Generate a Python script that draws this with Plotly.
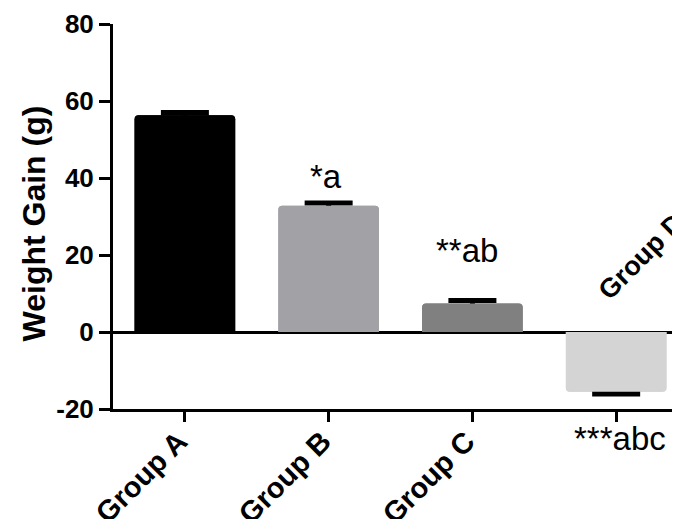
import plotly.graph_objects as go

categories = ["Group A", "Group B", "Group C", "Group D"]
means = [56.3, 32.8, 7.4, -15.5]
errors = [0.7, 0.7, 0.8, 0.6]
bar_colors = ["#000000", "#A2A2A6", "#808080", "#D4D4D4"]
tick_labels = ["Group A", "Group B", "Group C", ""]
sig_labels = ["", "*a", "**ab", "***abc"]
y_ticks = [-20, 0, 20, 40, 60, 80]
y_tick_labels = ["-20", "0", "20", "40", "60", "80"]

FONT = "Arial, Liberation Sans, sans-serif"

x_idx = list(range(len(categories)))

fig = go.Figure()
# bars with (symmetric) error bars
fig.add_trace(go.Bar(
    x=x_idx, y=means, width=0.70,
    marker=dict(color=bar_colors, line=dict(width=0), cornerradius=4),
    error_y=dict(type="data", array=errors, visible=True, color="#000000",
                 thickness=5, width=24),
    showlegend=False, hoverinfo="skip",
))
# same bars again on top, hiding the inner half of each error bar
fig.add_trace(go.Bar(
    x=x_idx, y=means, width=0.70,
    marker=dict(color=bar_colors, line=dict(width=0), cornerradius=4),
    showlegend=False,
))

# significance labels (x in data units; y in data units, or paper units when below the axis)
sig_pos = [None, (0.979, 40.4, "y"), (1.962, 21.2, "y"), (3.028, -0.077, "paper")]
for lab, pos in zip(sig_labels, sig_pos):
    if not lab:
        continue
    fig.add_annotation(x=pos[0], y=pos[1], xref="x", yref=pos[2], text=lab,
                       showarrow=False, font=dict(family=FONT, size=33, color="#000"),
                       xanchor="center", yanchor="middle")

# Group D label (rotated, above the zero line)
fig.add_annotation(x=3.17, y=19.6, xref="x", yref="y", text="Group D",
                   textangle=-45, showarrow=False,
                   font=dict(family=FONT, size=27, color="#000", weight="bold"),
                   xanchor="center", yanchor="middle")

# y axis title
fig.add_annotation(x=(26 - 105) / 567, y=0.482, xref="paper", yref="paper",
                   text="<b>Weight Gain (g)</b>", textangle=-90, showarrow=False,
                   font=dict(family=FONT, size=32, color="#000"),
                   xanchor="center", yanchor="middle")

fig.update_xaxes(
    range=[-0.5, 3.444], tickvals=x_idx, ticktext=tick_labels, tickangle=-45,
    showline=True, linecolor="#000", linewidth=3,
    ticks="outside", ticklen=10, tickwidth=3, tickcolor="#000",
    showgrid=False, zeroline=False, automargin=False,
    ticklabelstandoff=-9, ticklabelshift=-6,
    tickfont=dict(family=FONT, size=29, color="#000", weight="bold"),
)
fig.update_yaxes(
    range=[-20, 80], tickvals=y_ticks, ticktext=y_tick_labels,
    showline=True, linecolor="#000", linewidth=3,
    ticks="outside", ticklen=11, tickwidth=3, tickcolor="#000",
    showgrid=False, zeroline=True, zerolinecolor="#000", zerolinewidth=3,
    automargin=False,
    tickfont=dict(family=FONT, size=26, color="#000", weight="bold"),
)

fig.update_layout(
    width=672, height=511,
    margin=dict(l=105, r=0, t=16, b=110),
    plot_bgcolor="#FFFFFF", paper_bgcolor="#FFFFFF",
    barmode="overlay",
)

fig.write_html("out.html")
